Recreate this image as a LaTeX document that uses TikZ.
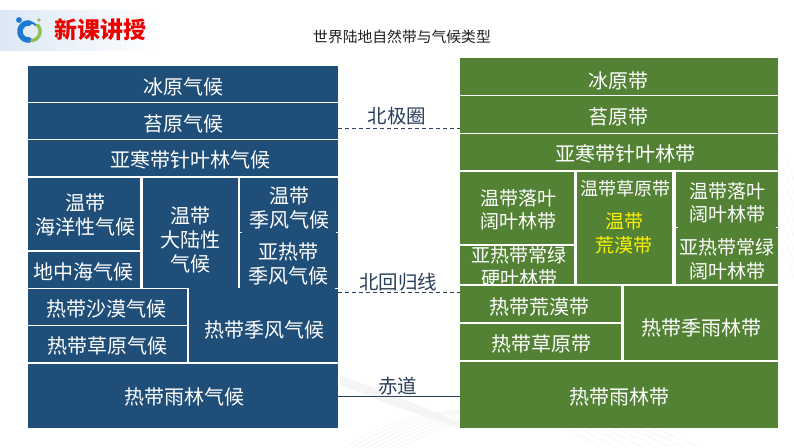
\documentclass[tikz,border=0pt]{standalone}
\usepackage{fontspec}
\setmainfont{Noto Sans CJK SC}
\definecolor{bl}{HTML}{1F4E79}
\definecolor{gr}{HTML}{548235}
\definecolor{ink}{HTML}{2B3F5C}
\definecolor{band}{HTML}{DCE8F5}
\definecolor{logob}{HTML}{1F78D1}
\definecolor{logog}{HTML}{8CC152}
\newcommand\bx[6]{%
  \pgfmathsetmacro\bw{#5-#3}\pgfmathsetmacro\bh{#6-#4}%
  \node[#1,minimum width=\bw pt,minimum height=\bh pt] (#2) at (#3,#4) {};}
\newcommand\tx[5][]{\node[lab,#1] (#2) at (#3,#4) {#5};}
\tikzset{
  x=1pt,y=-1pt,
  blbox/.style={fill=bl,draw=none,inner sep=0,outer sep=0,anchor=north west},
  grbox/.style={fill=gr,draw=none,inner sep=0,outer sep=0,anchor=north west},
  lab/.style={text=white,inner sep=0,align=center,font=\fontsize{20}{24}\selectfont},
  small/.style={font=\fontsize{19}{23.5}\selectfont},
  note/.style={text=ink,inner sep=0,font=\fontsize{19.5}{24}\selectfont},
  dash line/.style={draw=ink,line width=0.9pt,dash pattern=on 4pt off 3pt},
  tick line/.style={draw=white,line width=1pt}
}
\begin{document}
\begin{tikzpicture}
\useasboundingbox (0,0) rectangle (794,447);
\fill[white] (0,0) rectangle (794,447);
% faint background texture
\foreach \i in {0,...,7}{
  \draw[black!5,line width=.5pt] (345+\i*8,447) .. controls (420+\i*10,400) and (520+\i*10,395) .. (600+\i*14,447);
  \draw[black!4,line width=.5pt] (777,150+\i*14) .. controls (785,155+\i*14) and (790,165+\i*14) .. (794,180+\i*14);
}
\fill[black!4] (340,375) -- (400,398) -- (459,422) -- (459,428) -- (400,408) -- (340,385) -- cycle;
% header band
\shade[left color=band,right color=white] (0,10) rectangle (160,50);
% logo
\fill[logob] (19,20) circle (2.9);
\fill[logog] (39,20) circle (1.9);
\draw[logob,line width=5.5pt,line cap=round] plot[domain=85:275,samples=40,smooth] ({28.5+8.5*cos(\x)},{31.5+8.5*sin(\x)});
\draw[logob,line width=2pt] plot[domain=275:320,samples=12,smooth] ({28.5+9.5*cos(\x)},{31.5+9.5*sin(\x)});
\draw[logog,line width=3.4pt,line cap=round] plot[domain=-45:85,samples=30,smooth] ({31+9*cos(\x)},{31.5+9*sin(\x)});
\node[inner sep=0,text=red!92!black,font=\fontsize{23}{23}\selectfont\bfseries] (head) at (100,29.5) {新课讲授};
\node[inner sep=0,text=black!88,font=\fontsize{14.8}{15}\selectfont] (title) at (402,37) {世界陆地自然带与气候类型};
% left blocks
\bx{blbox}{lA}{28}{66}{338}{102}
\bx{blbox}{lB}{28}{103.2}{338}{138.6}
\bx{blbox}{lC}{28}{140}{338}{176}
\bx{blbox}{lD}{28}{178}{140}{250}
\bx{blbox}{lE}{28}{252}{140}{287.5}
\bx{blbox}{lF}{142.5}{178}{237.5}{287.5}
\bx{blbox}{lG}{240}{178}{338}{289}
\bx{blbox}{lH}{28}{289}{186.5}{324.5}
\bx{blbox}{lI}{28}{326}{186.5}{362}
\bx{blbox}{lJ}{188.5}{288}{338}{362}
\bx{blbox}{lK}{28}{363.5}{338}{428}
\draw[tick line] (240,232) -- (242,232) (336,232) -- (338,232) (335,288.3) -- (338,288.3);
\tx{tlA}{183}{87}{冰原气候}
\tx{tlB}{183}{123.5}{苔原气候}
\tx{tlC}{190}{160}{亚寒带针叶林气候}
\tx{tlD}{85}{215}{温带\\海洋性气候}
\tx{tlE}{83}{271.5}{地中海气候}
\tx{tlF}{190}{240}{温带\\大陆性\\气候}
\tx{tlG}{289}{208}{温带\\季风气候}
\tx{tlG2}{288}{264}{亚热带\\季风气候}
\tx{tlH}{106}{309}{热带沙漠气候}
\tx{tlI}{107}{346}{热带草原气候}
\tx{tlJ}{264}{330}{热带季风气候}
\tx{tlK}{184}{397}{热带雨林气候}
% right blocks
\bx{grbox}{rA}{460}{58.3}{777.5}{94.5}
\bx{grbox}{rB}{460}{96}{777.5}{132.5}
\bx{grbox}{rC}{460}{134}{777.5}{170}
\bx{grbox}{rD}{460}{172}{573.5}{244.3}
\bx{grbox}{rE}{460}{245.7}{573.5}{284}
\bx{grbox}{rF}{577}{172}{672}{284}
\bx{grbox}{rG}{676}{172}{777.5}{284}
\bx{grbox}{rH}{460}{286}{621}{322}
\bx{grbox}{rI}{460}{323.6}{621}{360}
\bx{grbox}{rJ}{624}{286}{777.5}{360}
\bx{grbox}{rK}{460}{362}{777.5}{428}
\draw[tick line] (676,227) -- (678,227) (775.5,227) -- (777.5,227);
\tx{trA}{618}{81}{冰原带}
\tx{trB}{618}{117}{苔原带}
\tx{trC}{625}{154}{亚寒带针叶林带}
\tx[small]{trD}{518}{210}{温带落叶\\阔叶林带}
\begin{scope}
\clip (460,245.7) rectangle (573.5,284);
\tx[small]{trE}{519}{267}{亚热带常绿\\硬叶林带}
\end{scope}
\tx[font=\fontsize{18}{22}\selectfont]{trF}{625}{189}{温带草原带}
\tx[font=\fontsize{19}{24}\selectfont,text=yellow]{trF2}{624}{233}{温带\\荒漠带}
\tx[small]{trG}{727}{203}{温带落叶\\阔叶林带}
\tx[small]{trG2}{727}{259.5}{亚热带常绿\\阔叶林带}
\tx{trH}{539}{307}{热带荒漠带}
\tx{trI}{541}{344}{热带草原带}
\tx{trJ}{701}{328}{热带季雨林带}
\tx{trK}{619}{397}{热带雨林带}
% latitude connectors
\coordinate (arcL) at (338,128.3);
\coordinate (arcR) at (460,128.3);
\coordinate (troL) at (338,292.7);
\coordinate (troR) at (460,292.7);
\coordinate (equL) at (338,396);
\coordinate (equR) at (460,396);
\draw[dash line] (arcL) -- (arcR);
\draw[dash line] (troL) -- (troR);
\draw[draw=ink,line width=1pt] (equL) -- (equR);
\node[note] (arc) at (397,116) {北极圈};
\node[note] (tro) at (398,282) {北回归线};
\node[note] (equ) at (397.5,386) {赤道};
\end{tikzpicture}
\end{document}
